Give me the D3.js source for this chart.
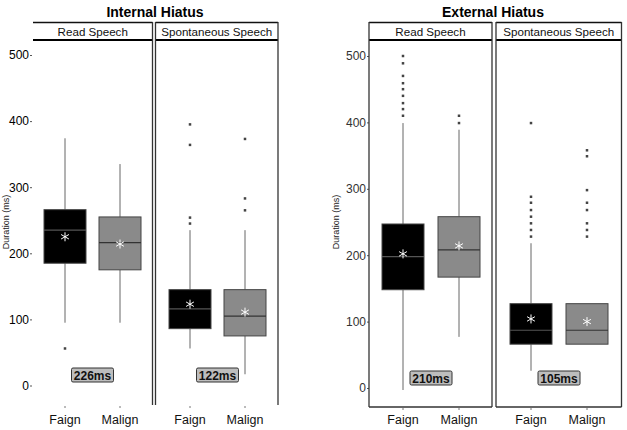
<!DOCTYPE html>
<html><head><meta charset="utf-8">
<script src="https://cdn.jsdelivr.net/npm/d3@7"></script>
<style>body{margin:0;background:#fff}svg{display:block}text{font-family:Arial,"Liberation Sans",sans-serif}</style>
</head><body><svg id="c" width="627" height="430"></svg>
<script>
const chartTitles = ["Internal Hiatus", "External Hiatus"];
const facets = ["Read Speech", "Spontaneous Speech"];
const categories = ["Faign", "Malign"];
const yTicks = [0, 100, 200, 300, 400, 500];
const yTitle = "Duration (ms)";
// order: Read-Faign, Read-Malign, Spont-Faign, Spont-Malign
const intQ1 = [185, 175, 86, 75];
const intMedian = [235, 216, 116, 105];
const intQ3 = [266, 255, 145, 145];
const intLow = [95, 95, 56, 17];
const intHigh = [374, 335, 235, 235];
const intMean = [225, 214, 123, 111];
const intOutliers = [[56], [], [395, 364, 254, 245], [373, 283, 265]];
const intLabels = ["226ms", "122ms"];

const extQ1 = [148, 167, 66, 66];
const extMedian = [198, 208, 87, 87];
const extQ3 = [247, 258, 127, 127];
const extLow = [-3, 77, 26, 66];
const extHigh = [399, 389, 218, 127];
const extMean = [202, 214, 104, 100];
const extOutliers = [[500, 489, 470, 459, 450, 440, 429, 420, 410], [410, 399], [399, 288, 279, 268, 258, 248, 238, 228], [358, 349, 298, 279, 268, 248, 238, 228]];
const extLabels = ["210ms", "105ms"];

const svg = d3.select("#c");

function draw(cfg) {
  const g = svg.append("g");
  const y = d3.scaleLinear().domain([0, 500]).range(cfg.yRange);
  g.append("text").attr("x", cfg.titleX).attr("y", 17).attr("text-anchor", "middle")
    .attr("font-weight", "bold").attr("font-size", 14).text(cfg.title);
  g.append("text").attr("transform", `translate(${cfg.yTitleX},222) rotate(-90)`)
    .attr("text-anchor", "middle").attr("font-size", 9).attr("fill", "#222").text(yTitle);
  const ax = g.append("g").attr("transform", `translate(${cfg.axisX},0)`)
    .call(d3.axisLeft(y).tickValues(yTicks).tickSize(2).tickPadding(1).tickFormat(d3.format("d")));
  ax.select(".domain").remove();
  ax.selectAll("text").attr("font-size", 12).attr("font-family", "Arial, Liberation Sans, sans-serif").attr("fill", cfg.tickColor);
  ax.selectAll("line").attr("stroke", "#555");

  facets.forEach((f, fi) => {
    const [x0, x1] = cfg.panels[fi];
    const xs = d3.scalePoint().domain(categories).range([x0 + cfg.offsets[fi][0], x0 + cfg.offsets[fi][1]]);
    g.append("line").attr("x1", x0).attr("x2", x1).attr("y1", 22.5).attr("y2", 22.5).attr("stroke", "#111").attr("stroke-width", 1.5);
    g.append("line").attr("x1", x0).attr("x2", x1).attr("y1", 40).attr("y2", 40).attr("stroke", "#000").attr("stroke-width", 2);
    g.append("text").attr("x", (x0 + x1) / 2).attr("y", 36).attr("text-anchor", "middle")
      .attr("font-size", 11.6).attr("fill", "#111").text(f);
    if (cfg.leftBorder[fi]) g.append("line").attr("x1", x0).attr("x2", x0).attr("y1", 22).attr("y2", cfg.bottom).attr("stroke", "#333").attr("stroke-width", 1.3);
    g.append("line").attr("x1", x1).attr("x2", x1).attr("y1", 22).attr("y2", cfg.bottom).attr("stroke", "#333").attr("stroke-width", 1.3);
    if (cfg.bottomLine) g.append("line").attr("x1", x0).attr("x2", x1).attr("y1", cfg.bottom).attr("y2", cfg.bottom).attr("stroke", "#333").attr("stroke-width", 1.3);

    categories.forEach((c, ci) => {
      const i = fi * 2 + ci;
      const cx = xs(c);
      const bw = 42;
      const fill = ci === 0 ? "#000" : "#8a8a8a";
      g.append("line").attr("x1", cx).attr("x2", cx).attr("y1", y(cfg.q3[i])).attr("y2", y(cfg.high[i])).attr("stroke", "#666").attr("stroke-width", 1);
      g.append("line").attr("x1", cx).attr("x2", cx).attr("y1", y(cfg.q1[i])).attr("y2", y(cfg.low[i])).attr("stroke", "#666").attr("stroke-width", 1);
      g.append("rect").attr("x", cx - bw / 2).attr("y", y(cfg.q3[i])).attr("width", bw)
        .attr("height", y(cfg.q1[i]) - y(cfg.q3[i])).attr("fill", fill).attr("stroke", "#444").attr("stroke-width", 1);
      g.append("line").attr("x1", cx - bw / 2).attr("x2", cx + bw / 2).attr("y1", y(cfg.median[i])).attr("y2", y(cfg.median[i]))
        .attr("stroke", ci === 0 ? "#555" : "#333").attr("stroke-width", 1.2);
      const my = y(cfg.mean[i]), r = 4.5;
      const p = d3.path();
      p.moveTo(cx, my - r); p.lineTo(cx, my + r);
      p.moveTo(cx - r * 0.87, my - r / 2); p.lineTo(cx + r * 0.87, my + r / 2);
      p.moveTo(cx - r * 0.87, my + r / 2); p.lineTo(cx + r * 0.87, my - r / 2);
      g.append("path").attr("d", p.toString()).attr("stroke", "#fff").attr("stroke-width", 1).attr("fill", "none");
      g.selectAll(null).data(cfg.outliers[i]).enter().append("rect")
        .attr("x", cx - 1.25).attr("y", d => y(d) - 1.25).attr("width", 2.5).attr("height", 2.5).attr("fill", "#444");
      g.append("line").attr("x1", cx).attr("x2", cx).attr("y1", cfg.bottom + 1).attr("y2", cfg.bottom + 3).attr("stroke", "#777");
      g.append("text").attr("x", cx).attr("y", 424).attr("text-anchor", "middle").attr("font-size", 12.5).attr("fill", "#111").text(c);
    });
    const lx = (xs(categories[0]) + xs(categories[1])) / 2;
    const lg = g.append("g");
    lg.append("rect").attr("x", lx - 21).attr("y", cfg.labelY - 7).attr("width", 42).attr("height", 14)
      .attr("rx", 1.5).attr("fill", "#bdbdbd").attr("stroke", "#333").attr("stroke-width", 1);
    lg.append("text").attr("x", lx).attr("y", cfg.labelY + 4.5).attr("text-anchor", "middle")
      .attr("font-weight", "bold").attr("font-size", 12).attr("fill", "#111").text(cfg.labels[fi]);
  });
}

draw({
  title: chartTitles[0], titleX: 155, yRange: [385.5, 55], axisX: 32, yTitleX: 9, tickColor: "#000",
  panels: [[33, 152.5], [155.5, 278]], offsets: [[32, 87], [34.5, 89.5]], leftBorder: [false, true],
  bottom: 405, bottomLine: false, labelY: 375,
  q1: intQ1, median: intMedian, q3: intQ3, low: intLow, high: intHigh, mean: intMean, outliers: intOutliers, labels: intLabels
});
draw({
  title: chartTitles[1], titleX: 493, yRange: [388, 56], axisX: 369, yTitleX: 339, tickColor: "#333",
  panels: [[369, 492], [496, 621.5]], offsets: [[34, 90], [35, 91]], leftBorder: [true, true],
  bottom: 407, bottomLine: true, labelY: 378,
  q1: extQ1, median: extMedian, q3: extQ3, low: extLow, high: extHigh, mean: extMean, outliers: extOutliers, labels: extLabels
});
</script></body></html>
